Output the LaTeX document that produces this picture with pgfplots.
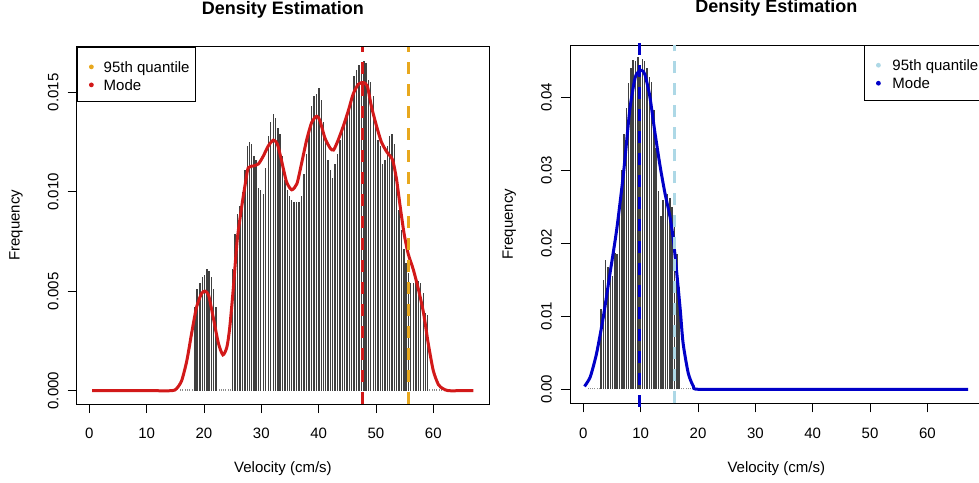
\documentclass[border=0pt]{standalone}
\usepackage{fontspec}
\setmainfont{Liberation Sans}
\usepackage{pgfplots}
\pgfplotsset{compat=1.18}
\definecolor{rcurve}{RGB}{210,25,25}
\definecolor{rquant}{RGB}{232,168,30}
\definecolor{bcurve}{RGB}{0,0,200}
\definecolor{bquant}{RGB}{173,216,230}

\pgfplotsset{
  rstyle/.style={
    scale only axis, width=412.6pt,
    clip=false,
    scaled y ticks=false, scaled x ticks=false,
    axis line style={line width=0.8pt},
    tick align=outside, major tick length=9pt,
    xtick pos=bottom, ytick pos=left,
    tick style={black, line width=0.8pt},
    xtick={0,10,20,30,40,50,60},
    xticklabels={0,10,20,30,40,50,60},
    /pgf/number format/assume math mode=true,
    xticklabel style={anchor=north, inner sep=0pt, yshift=-15pt},
    yticklabel style={xshift=-9pt, rotate=90, anchor=south, inner sep=0pt},
    every tick label/.append style={font=\fontsize{15}{18}\selectfont},
    label style={font=\fontsize{15}{18}\selectfont},
    xlabel={Velocity (cm/s)}, ylabel={Frequency},
    title={Density Estimation},
    title style={font=\bfseries\fontsize{18}{21}\selectfont, at={(axis description cs:0.5,1.1027)}, anchor=center, yshift=-6pt},
    xlabel style={at={(axis description cs:0.5,-0.182)}, anchor=center},
    ylabel style={at={(axis description cs:-0.147,0.5)}, anchor=center},
    legend style={anchor=north west, draw=black, line width=0.8pt, fill=white,
      font=\fontsize{15}{18}\selectfont, inner xsep=0pt, inner ysep=7.3pt,
      row sep=-4pt, /tikz/column sep=0pt,
      nodes={inner xsep=6pt, inner ysep=0pt, text height=18pt, text depth=4pt},
      cells={anchor=base west}},
  },
  bars/.style={ycomb, black!75, line width=1.5pt, no markers, forget plot},
  dots/.style={ycomb, black!45, line width=0.8pt, no markers, forget plot},
}

\begin{document}
\begin{tikzpicture}
\useasboundingbox (0,0) rectangle (979pt,482pt);
% ---------------- left panel ----------------
\begin{axis}[rstyle, at={(76.67pt,78pt)}, anchor=south west,
  height=357.3pt,
  xmin=-2.21, xmax=69.76, ymin=-0.00067, ymax=0.017296,
  ytick={0,0.005,0.010,0.015},
  yticklabels={0.000,0.005,0.010,0.015},
  legend style={at={(rel axis cs:0,1)}},
]
\addlegendimage{legend image code/.code={\path[draw=none] (0pt,0pt) rectangle (20.6pt,0pt); \fill[rquant, draw=none] (14.3pt,5.5pt) circle (2.4pt);}}
\addlegendentry{95th quantile}
\addlegendimage{legend image code/.code={\path[draw=none] (0pt,0pt) rectangle (20.6pt,0pt); \fill[rcurve, draw=none] (14.3pt,5.5pt) circle (2.4pt);}}
\addlegendentry{Mode}

\addplot[dots] coordinates {
(15.9,0.00008) (16.3,0.00008) (16.7,0.00008) (17.1,0.00008) (17.5,0.00008) (17.9,0.00008)
(22.6,0.00008) (23.0,0.00008) (23.4,0.00008) (23.8,0.00008) (24.2,0.00008) (24.6,0.00008)
(59.4,0.00008) (59.8,0.00008) (60.2,0.00008) (60.6,0.00008) (61.0,0.00008) (61.4,0.00008)
};
\addplot[bars] coordinates {
(18.4,0.0042) (18.8,0.0051) (19.3,0.0054) (19.7,0.0057) (20.1,0.0058)
(20.5,0.0061) (20.9,0.0060) (21.3,0.0057) (21.7,0.0051) (22.1,0.0042)
(24.94,0.0061) (25.41,0.0079) (25.81,0.0089) (26.28,0.0093) (26.69,0.0100)
(27.15,0.0111) (27.56,0.0123) (27.91,0.0125) (28.31,0.0124) (28.72,0.0118)
(29.07,0.0116) (29.48,0.0102) (29.88,0.0101) (30.35,0.0099) (30.76,0.0112)
(31.22,0.0128) (31.63,0.0135) (32.09,0.0139) (32.50,0.0137) (32.91,0.0132)
(33.26,0.0129) (33.72,0.0118) (34.13,0.0106) (34.53,0.0101) (34.88,0.0098)
(35.29,0.0096) (35.70,0.0095) (36.16,0.0095) (36.57,0.0095) (37.03,0.0098)
(37.44,0.0109) (37.91,0.0119) (38.31,0.0129) (38.78,0.0143) (39.19,0.0148)
(39.65,0.0149) (40.06,0.0152) (40.47,0.0146) (40.81,0.0135) (41.22,0.0126)
(41.63,0.0116) (42.04,0.0111) (42.44,0.0107) (42.85,0.0114) (43.26,0.0119)
(43.72,0.0126) (44.13,0.0131) (44.53,0.0136) (44.94,0.0138) (45.35,0.0143)
(45.76,0.0148) (46.16,0.0158) (46.63,0.0161) (47.04,0.0164) (47.50,0.0165)
(47.91,0.0166) (48.26,0.0165) (48.66,0.0156) (49.07,0.0155) (49.54,0.0148)
(49.94,0.0136) (50.35,0.0126) (50.76,0.0123) (51.16,0.0114) (51.57,0.0116)
(51.98,0.0123) (52.38,0.0128) (52.79,0.0129) (53.20,0.0124) (53.61,0.0106)
(54.01,0.0091) (54.42,0.0081) (54.88,0.0071) (55.23,0.0064) (55.64,0.0059)
(56.05,0.0054) (56.51,0.0054) (56.98,0.0056) (57.38,0.0055) (57.79,0.0054)
(58.26,0.0049) (58.66,0.0039) (59.01,0.0038)
};
\addplot[rcurve, line width=3pt, smooth, tension=0.4, no markers, forget plot] coordinates {
(0.5,0) (5,0) (10,0) (14.4,0) (15.2,0.0001) (16.1,0.0005) (17.0,0.0015)
(17.85,0.0029) (18.7,0.0042) (19.6,0.0049) (20.2,0.0050) (20.8,0.0048)
(21.6,0.0037) (22.5,0.0024) (23.3,0.0018) (24.0,0.0022) (24.5,0.0032)
(25.1,0.0051) (25.8,0.0076) (26.6,0.0093) (27.2,0.0104) (27.7,0.0112)
(28.6,0.0113) (29.5,0.0114) (30.35,0.0118) (31.2,0.0123) (32.1,0.0126)
(32.8,0.0124) (33.5,0.0116) (34.4,0.0105) (35.3,0.0101) (36.2,0.0104)
(37.0,0.0114) (37.9,0.0126) (38.8,0.0135) (39.65,0.0138) (40.2,0.0136)
(41.1,0.0127) (42.0,0.0122) (42.6,0.0121) (43.4,0.0126) (44.3,0.0133)
(45.2,0.0141) (46.0,0.0149) (46.9,0.0154) (47.8,0.0155) (48.5,0.0153)
(49.2,0.0143) (50.1,0.0133) (50.95,0.0125) (51.9,0.0120) (52.9,0.0116)
(53.6,0.0106) (54.2,0.0093) (54.9,0.0079) (55.6,0.0069) (56.5,0.0061)
(57.4,0.0051) (58.3,0.0039) (59.1,0.0024) (60.0,0.0010) (60.9,0.0003)
(61.7,0.0001) (62.6,0) (65,0) (67.0,0)
};
\addplot[rquant, line width=3pt, dash pattern=on 12pt off 10pt, forget plot] coordinates {(55.64,-0.00067) (55.64,0.017296)};
\addplot[rcurve, line width=3pt, dash pattern=on 12pt off 10pt, forget plot] coordinates {(47.68,-0.00067) (47.68,0.017296)};
\end{axis}

% ---------------- right panel ----------------
\begin{axis}[rstyle, at={(570pt,78.67pt)}, anchor=south west,
  height=358.3pt,
  xmin=-2.33, xmax=69.64, ymin=-0.00192, ymax=0.04717,
  ytick={0,0.01,0.02,0.03,0.04},
  yticklabels={0.00,0.01,0.02,0.03,0.04},
  legend style={at={(rel axis cs:0.7126,1)}},
]
\addlegendimage{legend image code/.code={\path[draw=none] (0pt,0pt) rectangle (22pt,0pt); \fill[bquant, draw=none] (14pt,5.5pt) circle (2.4pt);}}
\addlegendentry{95th quantile}
\addlegendimage{legend image code/.code={\path[draw=none] (0pt,0pt) rectangle (22pt,0pt); \fill[bcurve, draw=none] (14pt,5.5pt) circle (2.4pt);}}
\addlegendentry{Mode}

\addplot[dots] coordinates {
(0.8,0.0002) (1.2,0.0002) (1.6,0.0002) (2.0,0.0002) (2.4,0.0002) (2.8,0.0002)
(17.1,0.0002) (17.5,0.0002) (17.9,0.0002) (18.3,0.0002) (18.7,0.0002) (19.1,0.0002)
};
\addplot[bars] coordinates {
(3.1,0.0110) (3.5,0.0150) (3.9,0.0177) (4.3,0.0168) (4.7,0.0160)
(5.1,0.0155) (5.5,0.0187) (5.9,0.0186) (6.3,0.0240) (6.7,0.0300)
(7.1,0.0350) (7.5,0.0385) (7.9,0.0420) (8.3,0.0440) (8.7,0.0451)
(9.1,0.0450) (9.5,0.0455) (9.9,0.0445) (10.3,0.0452) (10.7,0.0450)
(11.1,0.0440) (11.5,0.0428) (11.9,0.0421) (12.3,0.0383) (12.7,0.0330)
(13.1,0.0272) (13.5,0.0237) (13.9,0.0260) (14.3,0.0268) (14.7,0.0268)
(15.1,0.0262) (15.5,0.0250) (15.9,0.0225) (16.3,0.0185) (16.7,0.0140)
};
\addplot[bcurve, line width=3pt, smooth, tension=0.4, no markers, forget plot] coordinates {
(0.2,0.0004) (1.2,0.0017) (2.3,0.0049) (3.5,0.0100) (4.65,0.0159)
(5.8,0.0218) (7.0,0.0296) (8.1,0.0383) (9.0,0.0426) (9.6,0.0435)
(10.2,0.0437) (10.75,0.0431) (11.6,0.0401) (12.5,0.0351) (13.4,0.0305)
(14.25,0.0268) (15.1,0.0237) (15.7,0.0205) (16.3,0.0159) (16.9,0.0109)
(17.4,0.0063) (18.3,0.0022) (19.2,0.0004) (20.1,0) (30,0) (40,0) (50,0) (60,0) (67.1,0)
};
\addplot[bquant, line width=3pt, dash pattern=on 12pt off 10pt, forget plot] coordinates {(15.87,-0.00192) (15.87,0.04717)};
\addplot[bcurve, line width=3pt, dash pattern=on 12pt off 10pt, forget plot] coordinates {(9.77,-0.0024) (9.77,0.0476)};
\end{axis}
\end{tikzpicture}
\end{document}
